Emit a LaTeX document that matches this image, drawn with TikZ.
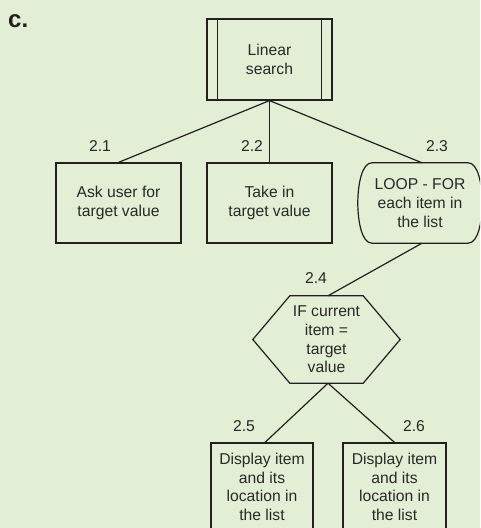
\documentclass[tikz,border=0pt]{standalone}
\usepackage{fontspec}
\setmainfont{Liberation Sans}
\definecolor{bgc}{RGB}{226,239,212}
\definecolor{ink}{RGB}{35,31,32}
\definecolor{txt}{RGB}{40,40,40}
\begin{document}
\begin{tikzpicture}[x=1pt,y=-1pt,
  every node/.style={text=txt,font=\fontsize{15.7}{18.7}\selectfont,align=center,inner sep=0pt},
  boxnode/.style={draw=ink,line width=1.2pt,minimum width=125pt,minimum height=80pt},
  link/.style={draw=ink,line width=1.2pt},
  num/.style={anchor=base}]
\fill[bgc] (0,0) rectangle (480,528);
\useasboundingbox (0,0) rectangle (480,528);
\clip (0,0) rectangle (480,528);

\node[anchor=base west,font=\fontsize{24}{26}\selectfont\bfseries,text=ink] (lab) at (8,27.5) {c.};

% top box
\node[boxnode,minimum height=81pt] (top) at (269.5,59.5) {Linear\\search};
\draw[link] ([xshift=11pt]top.north west) -- ([xshift=11pt]top.south west);
\draw[link] ([xshift=-11pt]top.north east) -- ([xshift=-11pt]top.south east);

% level 2
\node[boxnode] (b21) at (118.5,203) {Ask user for\\target value};
\node[boxnode] (b22) at (269.5,203) {Take in\\target value};
\node[minimum width=124pt,minimum height=80pt] (b23) at (420,203) {LOOP - FOR\\each item in\\the list};
\draw[link] ([xshift=14pt]b23.north west) -- ([xshift=-14pt]b23.north east)
  .. controls ([xshift=-4pt]b23.north east) and ([yshift=18pt]b23.east) .. (b23.east)
  .. controls ([yshift=-18pt]b23.east) and ([xshift=-4pt]b23.south east) .. ([xshift=-14pt]b23.south east)
  -- ([xshift=14pt]b23.south west)
  .. controls ([xshift=4pt]b23.south west) and ([yshift=-18pt]b23.west) .. (b23.west)
  .. controls ([yshift=18pt]b23.west) and ([xshift=4pt]b23.north west) .. ([xshift=14pt]b23.north west) -- cycle;

\node[num] (n21) at (100,151) {2.1};
\node[num] (n22) at (252,151) {2.2};
\node[num] (n23) at (437,151) {2.3};

\draw[link] (top.south) -- (b21.north);
\draw[link] (top.south) -- (b22.north);
\draw[link] (top.south) -- ([xshift=2pt]b23.north);

% hexagon
\node[minimum width=147pt,minimum height=87pt] (hex) at (326.5,339.5) {IF current\\item =\\target\\value};
\draw[link,line join=miter] (hex.west) -- ([xshift=37pt]hex.north west) -- ([xshift=-37pt]hex.north east)
  -- (hex.east) -- ([xshift=-37pt]hex.south east) -- ([xshift=37pt]hex.south west) -- cycle;
\node[num] (n24) at (316,283) {2.4};
\draw[link] ([xshift=2pt]b23.south) -- ([xshift=1.5pt]hex.north);

% level 3
\node[boxnode,minimum width=102pt,minimum height=88pt] (b25) at (262,487) {Display item\\and its\\location in\\the list};
\node[boxnode,minimum width=103pt,minimum height=88pt] (b26) at (394.5,487) {Display item\\and its\\location in\\the list};
\node[num] (n25) at (244,431) {2.5};
\node[num] (n26) at (414,431) {2.6};
\draw[link] ([xshift=1.5pt]hex.south) -- ([xshift=3pt]b25.north);
\draw[link] ([xshift=1.5pt]hex.south) -- (b26.north);
\end{tikzpicture}
\end{document}
